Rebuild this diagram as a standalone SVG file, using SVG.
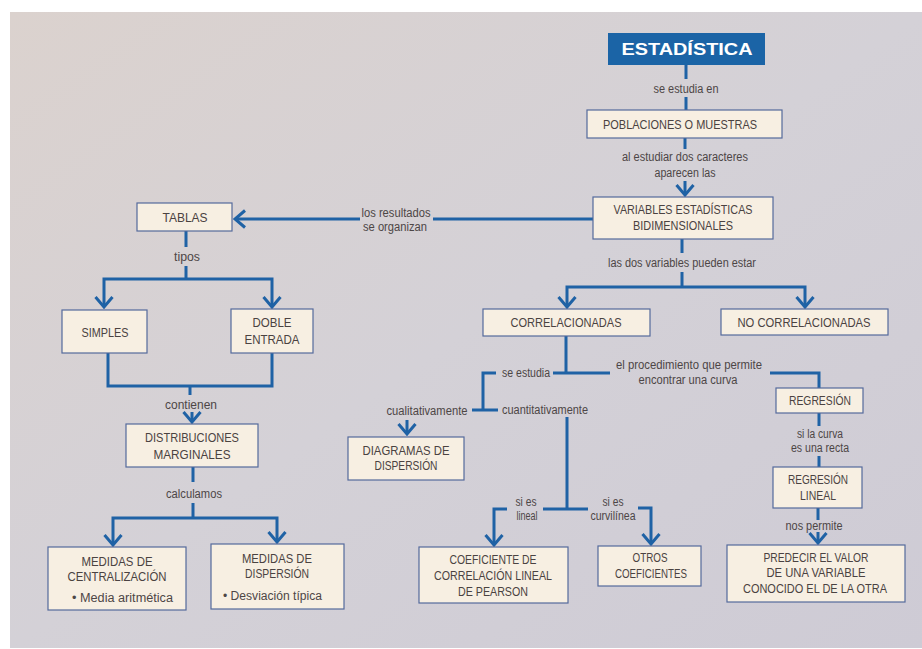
<svg xmlns="http://www.w3.org/2000/svg" width="922" height="649" viewBox="0 0 922 649">
<defs>
<linearGradient id="page" x1="0" y1="0" x2="1" y2="1">
<stop offset="0" stop-color="#dbd2ce"/>
<stop offset="0.5" stop-color="#d4d1d7"/>
<stop offset="1" stop-color="#cecbd5"/>
</linearGradient>
<marker id="arr" viewBox="-13 -10 15 20" refX="0" refY="0" markerWidth="15" markerHeight="20" markerUnits="userSpaceOnUse" orient="auto">
<path d="M-10,-8.5 L0,0 L-10,8.5" fill="none" stroke="#1f62a5" stroke-width="3"/>
</marker>
<style>
.box{fill:#f7efe2;stroke:#54699c;stroke-width:1.2}
.t{font-family:"Liberation Sans Narrow","Liberation Sans",Arial,sans-serif;font-size:13px;fill:#4a4241;text-anchor:middle}
.l{font-family:"Liberation Sans Narrow","Liberation Sans",Arial,sans-serif;font-size:12px;fill:#4d4646;text-anchor:middle}
.c{fill:none;stroke:#1f62a5;stroke-width:3}
.a{marker-end:url(#arr)}
</style>
</defs>
<rect x="0" y="0" width="922" height="649" fill="#ffffff"/>
<rect x="10" y="12" width="912" height="636" fill="url(#page)"/>

<g id="connectors">
<path class="c" d="M686,65 V79 M686,97 V110"/>
<path class="c" d="M685,138 V149"/>
<path class="c a" d="M685,181 V195"/>
<path class="c" d="M593,219 H433"/>
<path class="c a" d="M360,219 H235"/>
<path class="c" d="M186,231 V247 M186,266 V279"/>
<path class="c a" d="M186,279 H104 V307"/>
<path class="c a" d="M186,279 H272 V307"/>
<path class="c" d="M108,353 V386 H272 V353 M190,386 V395"/>
<path class="c a" d="M192,412 V422"/>
<path class="c" d="M193,467 V482 M193,503 V518"/>
<path class="c a" d="M193,518 H113 V545"/>
<path class="c a" d="M193,518 H277 V542"/>
<path class="c" d="M682,239 V253 M682,272 V287"/>
<path class="c a" d="M682,287 H567 V307"/>
<path class="c a" d="M682,287 H805 V307"/>
<path class="c" d="M566,336 V373 M553,373 H610"/>
<path class="c" d="M496,373 H483 V410 M472,410 H498"/>
<path class="c" d="M770,373 H819 V388"/>
<path class="c a" d="M407,420 V434"/>
<path class="c" d="M567,417 V509 M543,509 H588"/>
<path class="c a" d="M507,509 H494 V545"/>
<path class="c a" d="M638,508 H651 V544"/>
<path class="c" d="M819,413 V426 M819,456 V467"/>
<path class="c" d="M818,508 V520"/>
<path class="c a" d="M818,532 V543"/>
</g>

<g id="n-estadistica">
<rect x="608" y="33" width="157" height="32" fill="#1b64a6"/>
<text x="687" y="55" font-family="'Liberation Sans',Arial,sans-serif" font-size="17" font-weight="bold" fill="#ffffff" text-anchor="middle" textLength="131" lengthAdjust="spacingAndGlyphs">ESTADÍSTICA</text>
</g>
<g id="lbl-se-estudia-en"><text class="l" x="686" y="93" textLength="65" lengthAdjust="spacingAndGlyphs">se estudia en</text></g>

<g id="n-poblaciones">
<rect class="box" x="587" y="110" width="195" height="28"/>
<text class="t" x="680" y="129" textLength="154" lengthAdjust="spacingAndGlyphs">POBLACIONES O MUESTRAS</text>
</g>
<g id="lbl-al-estudiar">
<text class="l" x="685" y="161" textLength="126" lengthAdjust="spacingAndGlyphs">al estudiar dos caracteres</text>
<text class="l" x="685" y="177" textLength="61" lengthAdjust="spacingAndGlyphs">aparecen las</text>
</g>

<g id="n-variables">
<rect class="box" x="593" y="197" width="180" height="42"/>
<text class="t" x="683" y="214" textLength="139" lengthAdjust="spacingAndGlyphs">VARIABLES ESTADÍSTICAS</text>
<text class="t" x="683" y="230" textLength="100" lengthAdjust="spacingAndGlyphs">BIDIMENSIONALES</text>
</g>
<g id="lbl-resultados">
<text class="l" x="396" y="217" textLength="69" lengthAdjust="spacingAndGlyphs">los resultados</text>
<text class="l" x="395" y="231" textLength="64" lengthAdjust="spacingAndGlyphs">se organizan</text>
</g>

<g id="n-tablas">
<rect class="box" x="137" y="203" width="95" height="28"/>
<text class="t" x="185" y="222" textLength="45" lengthAdjust="spacingAndGlyphs">TABLAS</text>
</g>
<g id="lbl-tipos"><text class="l" x="187" y="261" textLength="26" lengthAdjust="spacingAndGlyphs">tipos</text></g>

<g id="n-simples">
<rect class="box" x="62" y="310" width="85" height="43"/>
<text class="t" x="105" y="337" textLength="47" lengthAdjust="spacingAndGlyphs">SIMPLES</text>
</g>
<g id="n-doble">
<rect class="box" x="231" y="309" width="82" height="44"/>
<text class="t" x="272" y="327" textLength="39" lengthAdjust="spacingAndGlyphs">DOBLE</text>
<text class="t" x="272" y="344" textLength="55" lengthAdjust="spacingAndGlyphs">ENTRADA</text>
</g>
<g id="lbl-contienen"><text class="l" x="191" y="409" textLength="52" lengthAdjust="spacingAndGlyphs">contienen</text></g>

<g id="n-distribuciones">
<rect class="box" x="126" y="424" width="132" height="43"/>
<text class="t" x="192" y="442" textLength="94" lengthAdjust="spacingAndGlyphs">DISTRIBUCIONES</text>
<text class="t" x="192" y="459" textLength="77" lengthAdjust="spacingAndGlyphs">MARGINALES</text>
</g>
<g id="lbl-calculamos"><text class="l" x="194" y="498" textLength="56" lengthAdjust="spacingAndGlyphs">calculamos</text></g>

<g id="n-centralizacion">
<rect class="box" x="48" y="547" width="138" height="63"/>
<text class="t" x="117" y="566" textLength="71" lengthAdjust="spacingAndGlyphs">MEDIDAS DE</text>
<text class="t" x="117" y="581" textLength="99" lengthAdjust="spacingAndGlyphs">CENTRALIZACIÓN</text>
<text class="l" x="72" y="602" style="text-anchor:start" textLength="101" lengthAdjust="spacingAndGlyphs">• Media aritmética</text>
</g>
<g id="n-dispersion-medidas">
<rect class="box" x="211" y="544" width="133" height="65"/>
<text class="t" x="277" y="563" textLength="70" lengthAdjust="spacingAndGlyphs">MEDIDAS DE</text>
<text class="t" x="277" y="578" textLength="64" lengthAdjust="spacingAndGlyphs">DISPERSIÓN</text>
<text class="l" x="223" y="600" style="text-anchor:start" textLength="99" lengthAdjust="spacingAndGlyphs">• Desviación típica</text>
</g>

<g id="lbl-las-dos"><text class="l" x="682" y="267" textLength="148" lengthAdjust="spacingAndGlyphs">las dos variables pueden estar</text></g>

<g id="n-correlacionadas">
<rect class="box" x="483" y="309" width="167" height="27"/>
<text class="t" x="566" y="327" textLength="111" lengthAdjust="spacingAndGlyphs">CORRELACIONADAS</text>
</g>
<g id="n-no-correlacionadas">
<rect class="box" x="721" y="309" width="167" height="26"/>
<text class="t" x="804" y="327" textLength="133" lengthAdjust="spacingAndGlyphs">NO CORRELACIONADAS</text>
</g>

<g id="lbl-se-estudia"><text class="l" x="526" y="377" textLength="48" lengthAdjust="spacingAndGlyphs">se estudia</text></g>
<g id="lbl-procedimiento">
<text class="l" x="689" y="369" textLength="146" lengthAdjust="spacingAndGlyphs">el procedimiento que permite</text>
<text class="l" x="688" y="384" textLength="99" lengthAdjust="spacingAndGlyphs">encontrar una curva</text>
</g>
<g id="lbl-cualitativamente"><text class="l" x="427" y="415" textLength="81" lengthAdjust="spacingAndGlyphs">cualitativamente</text></g>
<g id="lbl-cuantitativamente"><text class="l" x="545" y="414" textLength="86" lengthAdjust="spacingAndGlyphs">cuantitativamente</text></g>

<g id="n-diagramas">
<rect class="box" x="348" y="437" width="116" height="43"/>
<text class="t" x="406" y="455" textLength="87" lengthAdjust="spacingAndGlyphs">DIAGRAMAS DE</text>
<text class="t" x="406" y="470" textLength="63" lengthAdjust="spacingAndGlyphs">DISPERSIÓN</text>
</g>

<g id="lbl-lineal">
<text class="l" x="526" y="506" textLength="21" lengthAdjust="spacingAndGlyphs">si es</text>
<text class="l" x="527" y="520" textLength="21" lengthAdjust="spacingAndGlyphs">lineal</text>
</g>
<g id="lbl-curvilinea">
<text class="l" x="613" y="506" textLength="21" lengthAdjust="spacingAndGlyphs">si es</text>
<text class="l" x="613" y="520" textLength="45" lengthAdjust="spacingAndGlyphs">curvilínea</text>
</g>

<g id="n-coeficiente">
<rect class="box" x="419" y="547" width="149" height="56"/>
<text class="t" x="493" y="564" textLength="87" lengthAdjust="spacingAndGlyphs">COEFICIENTE DE</text>
<text class="t" x="493" y="580" textLength="118" lengthAdjust="spacingAndGlyphs">CORRELACIÓN LINEAL</text>
<text class="t" x="493" y="596" textLength="70" lengthAdjust="spacingAndGlyphs">DE PEARSON</text>
</g>
<g id="n-otros">
<rect class="box" x="598" y="546" width="103" height="40"/>
<text class="t" x="650" y="562" textLength="35" lengthAdjust="spacingAndGlyphs">OTROS</text>
<text class="t" x="651" y="578" textLength="72" lengthAdjust="spacingAndGlyphs">COEFICIENTES</text>
</g>

<g id="n-regresion">
<rect class="box" x="776" y="388" width="87" height="25"/>
<text class="t" x="820" y="405" textLength="62" lengthAdjust="spacingAndGlyphs">REGRESIÓN</text>
</g>
<g id="lbl-si-la-curva">
<text class="l" x="820" y="438" textLength="46" lengthAdjust="spacingAndGlyphs">si la curva</text>
<text class="l" x="820" y="452" textLength="58" lengthAdjust="spacingAndGlyphs">es una recta</text>
</g>
<g id="n-regresion-lineal">
<rect class="box" x="773" y="467" width="89" height="41"/>
<text class="t" x="818" y="484" textLength="60" lengthAdjust="spacingAndGlyphs">REGRESIÓN</text>
<text class="t" x="818" y="500" textLength="36" lengthAdjust="spacingAndGlyphs">LINEAL</text>
</g>
<g id="lbl-nos-permite"><text class="l" x="814" y="530" textLength="57" lengthAdjust="spacingAndGlyphs">nos permite</text></g>
<g id="n-predecir">
<rect class="box" x="727" y="545" width="178" height="57"/>
<text class="t" x="816" y="562" textLength="105" lengthAdjust="spacingAndGlyphs">PREDECIR EL VALOR</text>
<text class="t" x="816" y="577" textLength="99" lengthAdjust="spacingAndGlyphs">DE UNA VARIABLE</text>
<text class="t" x="815" y="593" textLength="144" lengthAdjust="spacingAndGlyphs">CONOCIDO EL DE LA OTRA</text>
</g>
</svg>
